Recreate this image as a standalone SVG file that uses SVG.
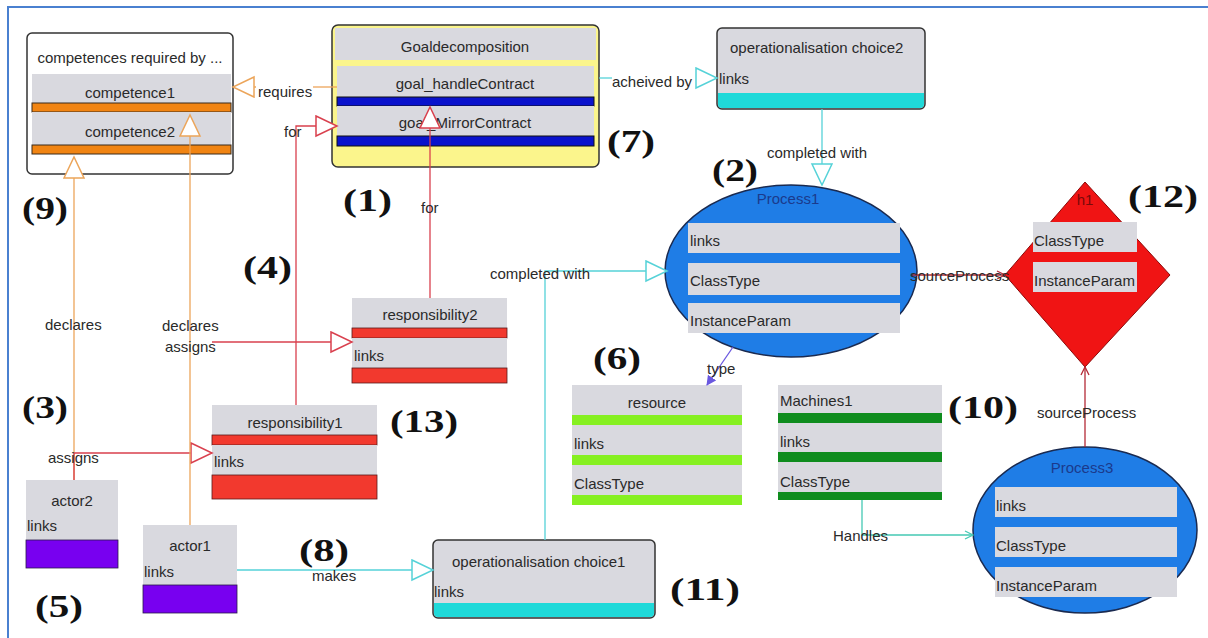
<svg xmlns="http://www.w3.org/2000/svg" width="1208" height="638" viewBox="0 0 1208 638">
  <style>
    .t { font-family: "Liberation Sans", Arial, sans-serif; font-size: 15px; fill: #2a2a2a; }
    .c { text-anchor: middle; }
    .num { font-family: "Liberation Serif", "Times New Roman", serif; font-size: 32px; font-weight: bold; fill: #111; }
    .row { fill: #d9d9df; }
    .bar-o { fill: #f18412; stroke: #3a2a1a; stroke-width: 1; }
    .bar-b { fill: #0a12cc; stroke: #111; stroke-width: 1; }
    .bar-r { fill: #f2392e; stroke: #5a1a1a; stroke-width: 0.8; }
    .bar-lg { fill: #86f021; }
    .bar-dg { fill: #0f8c1e; }
    .bar-p { fill: #7800f0; stroke: #2a1a4a; stroke-width: 0.8; }
    .bar-t { fill: #1fd9d9; }
    .frame { stroke: #333; stroke-width: 1.5; }
    .e { fill: none; stroke-width: 1.3; }
    .orange { stroke: #eca55a; }
    .red { stroke: #d9404e; }
    .cyan { stroke: #55d2d8; }
    .dred { stroke: #b42a36; }
    .purple { stroke: #6a58e0; }
    .teal { stroke: #45c9b4; }
    .ptitle { font-family: "Liberation Sans", Arial, sans-serif; font-size: 15px; fill: #1b3a8c; text-anchor: middle; }
  </style>
  <defs>
    <marker id="tri-orange" markerUnits="userSpaceOnUse" markerWidth="26" markerHeight="26" refX="22" refY="11" orient="auto">
      <path d="M1,1 L22,11 L1,21 Z" fill="#fff" stroke="#eca55a" stroke-width="1.5"/>
    </marker>
    <marker id="tri-red" markerUnits="userSpaceOnUse" markerWidth="26" markerHeight="26" refX="22" refY="11" orient="auto">
      <path d="M1,1 L22,11 L1,21 Z" fill="#fff" stroke="#d9404e" stroke-width="1.5"/>
    </marker>
    <marker id="tri-cyan" markerUnits="userSpaceOnUse" markerWidth="26" markerHeight="26" refX="22" refY="11" orient="auto">
      <path d="M1,1 L22,11 L1,21 Z" fill="#fff" stroke="#55d2d8" stroke-width="1.5"/>
    </marker>
    <marker id="chev-dred" markerUnits="userSpaceOnUse" markerWidth="12" markerHeight="12" refX="9" refY="5" orient="auto">
      <path d="M1,1 L9,5 L1,9" fill="none" stroke="#b42a36" stroke-width="1.3"/>
    </marker>
    <marker id="chev-teal" markerUnits="userSpaceOnUse" markerWidth="12" markerHeight="12" refX="9" refY="5" orient="auto">
      <path d="M1,1 L9,5 L1,9" fill="none" stroke="#45c9b4" stroke-width="1.3"/>
    </marker>
    <marker id="arr-purple" markerUnits="userSpaceOnUse" markerWidth="12" markerHeight="12" refX="9" refY="5" orient="auto">
      <path d="M0,0 L10,5 L0,10 Z" fill="#6a58e0"/>
    </marker>
  </defs>

  <rect width="1208" height="638" fill="#fff"/>
  <!-- outer frame -->
  <path d="M8,640 L8,7 L1208,7" fill="none" stroke="#4a80d0" stroke-width="2"/>

  <!-- competences container -->
  <g id="competences">
    <rect class="frame" x="27" y="33" width="206" height="141" rx="5" style="fill:#fff"/>
    <text class="t c" x="130" y="63">competences required by ...</text>
    <rect class="row" x="32" y="74" width="199" height="29"/>
    <rect class="bar-o" x="32" y="103" width="199" height="9"/>
    <text class="t c" x="130" y="98">competence1</text>
    <rect class="row" x="32" y="112" width="199" height="33"/>
    <rect class="bar-o" x="32" y="145" width="199" height="9"/>
    <text class="t c" x="130" y="137">competence2</text>
  </g>

  <!-- goal decomposition -->
  <g id="goaldecomposition">
    <rect class="frame" x="332" y="25" width="267" height="142" rx="6" style="fill:#fbf58c"/>
    <rect class="row" x="335" y="28" width="261" height="32"/>
    <text class="t c" x="465" y="52">Goaldecomposition</text>
    <rect class="row" x="337" y="66" width="257" height="31"/>
    <rect class="bar-b" x="337" y="97" width="257" height="9"/>
    <text class="t c" x="465" y="89">goal_handleContract</text>
    <rect class="row" x="337" y="106" width="257" height="30"/>
    <rect class="bar-b" x="337" y="136" width="257" height="10"/>
    <text class="t c" x="465" y="128">goal_MirrorContract</text>
  </g>

  <!-- operationalisation choice2 -->
  <g id="opchoice2">
    <rect class="frame" x="717" y="28" width="208" height="81" rx="5" style="fill:#d9d9df"/>
    <path class="bar-t" d="M718,93 H924 V104 Q924,108 920,108 H722 Q718,108 718,104 Z"/>
    <text class="t" x="730" y="53">operationalisation choice2</text>
    <text class="t" x="719" y="84">links</text>
  </g>

  <!-- operationalisation choice1 -->
  <g id="opchoice1">
    <rect class="frame" x="433" y="540" width="222" height="78" rx="5" style="fill:#d9d9df"/>
    <path class="bar-t" d="M434,603 H654 V613 Q654,617 650,617 H438 Q434,617 434,613 Z"/>
    <text class="t" x="452" y="567">operationalisation choice1</text>
    <text class="t" x="434" y="597">links</text>
  </g>

  <!-- Process1 -->
  <g id="process1">
    <ellipse cx="791" cy="271" rx="126" ry="86" fill="#1f7de6" stroke="#1a2a50" stroke-width="1.5"/>
    <text class="ptitle" x="788" y="204">Process1</text>
    <rect class="row" x="688" y="223" width="212" height="30"/>
    <text class="t" x="690" y="246">links</text>
    <rect class="row" x="688" y="263" width="212" height="32"/>
    <text class="t" x="690" y="286">ClassType</text>
    <rect class="row" x="688" y="303" width="212" height="30"/>
    <text class="t" x="690" y="326">InstanceParam</text>
  </g>

  <!-- gateway -->
  <g id="gateway">
    <polygon points="1085,182 1170,275 1085,367 1005,275" fill="#f01414" stroke="#8a0a0a" stroke-width="1"/>
    <text class="t c" x="1085" y="205" style="fill:#7a0a0a">h1</text>
    <rect class="row" x="1033" y="222" width="104" height="30"/>
    <text class="t" x="1034" y="246">ClassType</text>
    <rect class="row" x="1033" y="262" width="104" height="30"/>
    <text class="t" x="1034" y="286">InstanceParam</text>
  </g>

  <!-- Process3 -->
  <g id="process3">
    <ellipse cx="1085" cy="530" rx="112" ry="83" fill="#1f7de6" stroke="#1a2a50" stroke-width="1.5"/>
    <text class="ptitle" x="1082" y="473">Process3</text>
    <rect class="row" x="995" y="487" width="182" height="30"/>
    <text class="t" x="996" y="511">links</text>
    <rect class="row" x="995" y="527" width="182" height="30"/>
    <text class="t" x="996" y="551">ClassType</text>
    <rect class="row" x="995" y="567" width="182" height="30"/>
    <text class="t" x="996" y="591">InstanceParam</text>
  </g>

  <!-- resource -->
  <g id="resource">
    <rect class="row" x="572" y="385" width="170" height="30"/>
    <text class="t c" x="657" y="408">resource</text>
    <rect class="bar-lg" x="572" y="415" width="170" height="10"/>
    <rect class="row" x="572" y="425" width="170" height="30"/>
    <text class="t" x="574" y="449">links</text>
    <rect class="bar-lg" x="572" y="455" width="170" height="10"/>
    <rect class="row" x="572" y="465" width="170" height="30"/>
    <text class="t" x="574" y="489">ClassType</text>
    <rect class="bar-lg" x="572" y="495" width="170" height="10"/>
  </g>

  <!-- Machines1 -->
  <g id="machines1">
    <rect class="row" x="778" y="385" width="164" height="28"/>
    <text class="t" x="780" y="406">Machines1</text>
    <rect class="bar-dg" x="778" y="413" width="164" height="10"/>
    <rect class="row" x="778" y="423" width="164" height="29"/>
    <text class="t" x="780" y="447">links</text>
    <rect class="bar-dg" x="778" y="452" width="164" height="10"/>
    <rect class="row" x="778" y="462" width="164" height="30"/>
    <text class="t" x="780" y="487">ClassType</text>
    <rect class="bar-dg" x="778" y="492" width="164" height="8"/>
  </g>

  <!-- responsibility2 -->
  <g id="responsibility2">
    <rect class="row" x="352" y="298" width="155" height="30"/>
    <text class="t c" x="430" y="320">responsibility2</text>
    <rect class="bar-r" x="352" y="328" width="155" height="10"/>
    <rect class="row" x="352" y="338" width="155" height="30"/>
    <text class="t" x="354" y="361">links</text>
    <rect class="bar-r" x="352" y="368" width="155" height="15"/>
  </g>

  <!-- responsibility1 -->
  <g id="responsibility1">
    <rect class="row" x="212" y="405" width="165" height="30"/>
    <text class="t c" x="295" y="428">responsibility1</text>
    <rect class="bar-r" x="212" y="435" width="165" height="10"/>
    <rect class="row" x="212" y="445" width="165" height="30"/>
    <text class="t" x="214" y="467">links</text>
    <rect class="bar-r" x="212" y="475" width="165" height="24"/>
  </g>

  <!-- actor2 -->
  <g id="actor2">
    <rect class="row" x="26" y="480" width="92" height="60"/>
    <text class="t c" x="72" y="506">actor2</text>
    <text class="t" x="27" y="531">links</text>
    <rect class="bar-p" x="26" y="540" width="92" height="28"/>
  </g>

  <!-- actor1 -->
  <g id="actor1">
    <rect class="row" x="143" y="525" width="94" height="60"/>
    <text class="t c" x="190" y="551">actor1</text>
    <text class="t" x="144" y="577">links</text>
    <rect class="bar-p" x="143" y="585" width="94" height="28"/>
  </g>

  <!-- connectors, drawn over the nodes so heads stay visible -->
  <g id="connectors">
    <!-- Goaldecomposition -> competence1 : requires -->
    <path class="e orange" d="M337,87 L313,87"/>
    <path class="e orange" d="M256,87 L233,87" marker-end="url(#tri-orange)"/>
    <text class="t" x="258" y="97">requires</text>

    <!-- Goaldecomposition -> operationalisation choice2 : acheived by -->
    <path class="e cyan" d="M599,78 L612,78"/>
    <path class="e cyan" d="M696,78 L717,78" marker-end="url(#tri-cyan)"/>
    <text class="t" x="612" y="87">acheived by</text>

    <!-- operationalisation choice2 -> Process1 : completed with -->
    <path class="e cyan" d="M822,109 L822,185" marker-end="url(#tri-cyan)"/>
    <text class="t" x="767" y="158">completed with</text>

    <!-- operationalisation choice1 -> Process1 : completed with -->
    <path class="e cyan" d="M545,540 L545,271 L667,271" marker-end="url(#tri-cyan)"/>
    <text class="t" x="490" y="279">completed with</text>

    <!-- actor1 -> operationalisation choice1 : makes -->
    <path class="e cyan" d="M237,570 L433,570" marker-end="url(#tri-cyan)"/>
    <text class="t" x="312" y="581">makes</text>

    <!-- actor2 -> competences : declares -->
    <path class="e orange" d="M74,480 L74,157" marker-end="url(#tri-orange)"/>
    <text class="t" x="45" y="330">declares</text>

    <!-- actor2 -> responsibility1 : assigns -->
    <path class="e red" d="M74,480 L74,453 L212,453" marker-end="url(#tri-red)"/>
    <text class="t" x="48" y="463">assigns</text>

    <!-- actor1 -> competence2 : declares -->
    <path class="e orange" d="M190,525 L190,115" marker-end="url(#tri-orange)"/>
    <text class="t" x="162" y="331">declares</text>

    <!-- actor1 -> responsibility2 : assigns -->
    <path class="e red" d="M212,342 L352,342" marker-end="url(#tri-red)"/>
    <text class="t" x="165" y="352">assigns</text>

    <!-- responsibility1 -> Goaldecomposition : for -->
    <path class="e red" d="M296,405 L296,126 L337,126" marker-end="url(#tri-red)"/>
    <text class="t" x="284" y="137">for</text>

    <!-- responsibility2 -> goal_MirrorContract : for -->
    <path class="e red" d="M430,298 L430,107" marker-end="url(#tri-red)"/>
    <text class="t" x="421" y="213">for</text>

    <!-- Process1 -> resource : type -->
    <path class="e purple" d="M733,347 L707,385" marker-end="url(#arr-purple)"/>
    <text class="t" x="707" y="374">type</text>

    <!-- Process1 -> gateway : sourceProcess -->
    <path class="e dred" d="M912,275 L1005,275" marker-end="url(#chev-dred)"/>
    <text class="t" x="910" y="281">sourceProcess</text>

    <!-- Process3 -> gateway : sourceProcess -->
    <path class="e dred" d="M1085,447 L1085,367" marker-end="url(#chev-dred)"/>
    <text class="t" x="1037" y="418">sourceProcess</text>

    <!-- Machines1 -> Process3 : Handles -->
    <path class="e teal" d="M862,500 L862,535 L973,535" marker-end="url(#chev-teal)"/>
    <text class="t" x="833" y="541">Handles</text>
  </g>

  <!-- reference numbers -->
  <g id="numbers">
    <text class="num" x="343" y="211" textLength="49" lengthAdjust="spacingAndGlyphs">(1)</text>
    <text class="num" x="712" y="181" textLength="46" lengthAdjust="spacingAndGlyphs">(2)</text>
    <text class="num" x="22" y="418" textLength="46" lengthAdjust="spacingAndGlyphs">(3)</text>
    <text class="num" x="243" y="278" textLength="49" lengthAdjust="spacingAndGlyphs">(4)</text>
    <text class="num" x="35" y="617" textLength="48" lengthAdjust="spacingAndGlyphs">(5)</text>
    <text class="num" x="593" y="369" textLength="48" lengthAdjust="spacingAndGlyphs">(6)</text>
    <text class="num" x="607" y="152" textLength="48" lengthAdjust="spacingAndGlyphs">(7)</text>
    <text class="num" x="299" y="561" textLength="50" lengthAdjust="spacingAndGlyphs">(8)</text>
    <text class="num" x="22" y="219" textLength="46" lengthAdjust="spacingAndGlyphs">(9)</text>
    <text class="num" x="948" y="418" textLength="70" lengthAdjust="spacingAndGlyphs">(10)</text>
    <text class="num" x="670" y="600" textLength="70" lengthAdjust="spacingAndGlyphs">(11)</text>
    <text class="num" x="1128" y="207" textLength="70" lengthAdjust="spacingAndGlyphs">(12)</text>
    <text class="num" x="390" y="432" textLength="68" lengthAdjust="spacingAndGlyphs">(13)</text>
  </g>
</svg>
